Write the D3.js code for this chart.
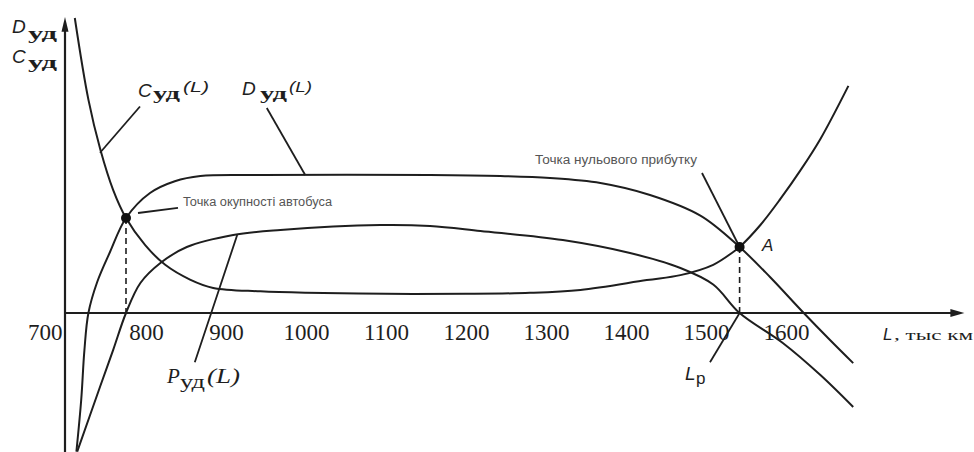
<!DOCTYPE html>
<html><head><meta charset="utf-8">
<script src="https://cdn.jsdelivr.net/npm/d3@7"></script>
<style>body{margin:0;background:#fff}svg{display:block}</style>
</head><body>
<svg id="c" width="974" height="452"></svg>
<script>
// ---- data (L in thousand km, values in relative units) ----
const ticksL = [700, 800, 900, 1000, 1100, 1200, 1300, 1400, 1500, 1600];

const costL = [711, 728, 743, 759, 775, 799, 824, 855, 884, 943, 1000, 1100, 1200, 1280, 1343, 1426, 1468, 1509, 1534, 1542, 1568, 1593, 1618, 1643, 1678];
const costV = [30.0, 21.7, 16.6, 12.5, 9.66, 6.9, 4.9, 3.4, 2.55, 2.2, 2.05, 1.95, 1.95, 2.05, 2.35, 3.35, 3.85, 4.9, 6.2, 6.71, 8.95, 11.6, 14.5, 17.7, 23.1];

const revL = [713, 719, 723, 728, 739, 755, 775, 805, 836, 868, 943, 1155, 1243, 1305, 1368, 1430, 1493, 1542, 1580, 1621, 1655, 1684];
const revV = [-14.1, -8.85, -3.8, 0, 3.15, 6.2, 9.66, 12.2, 13.4, 13.93, 14.03, 14.03, 13.93, 13.73, 13.22, 12.0, 9.9, 6.71, 3.66, 0.1, -2.75, -5.1];

const profL = [714, 743, 759, 775, 793, 818, 851, 909, 968, 1093, 1155, 1218, 1321, 1405, 1468, 1509, 1542, 1596, 1643, 1684];
const profV = [-14.1, -7.4, -3.75, 0, 3.05, 5.08, 6.71, 7.93, 8.44, 8.95, 8.85, 8.34, 7.42, 6.1, 4.58, 2.9, 0, -3.05, -6.31, -9.56];

const breakEven = [775, 9.66];   // Точка окупності автобуса
const pointA = [1542, 6.71];     // Точка нульового прибутку (A)

// ---- scales ----
const svg = d3.select("#c");
const x = d3.scaleLinear().domain([700, 1600]).range([66, 786]);
const y = d3.scaleLinear().domain([0, 30]).range([313, 18]);
const ink = "#1e1e1e";

const line = d3.line().x(d => x(d[0])).y(d => y(d[1])).curve(d3.curveCatmullRom.alpha(0.5));
const zip = (a, b) => a.map((v, i) => [v, b[i]]);

// ---- axes ----
const x0 = x(700) - 1;
svg.append("line").attr("x1", x0).attr("x2", x0).attr("y1", 452).attr("y2", y(29.2))
  .attr("stroke", ink).attr("stroke-width", 2.2);
svg.append("path").attr("d", `M${x0},${y(30.1)} L${x0-3.5},${y(28.6)} L${x0+3.5},${y(28.6)} Z`).attr("fill", ink);

const xEnd = x(1618) + 160;
svg.append("line").attr("x1", x0).attr("x2", xEnd - 8).attr("y1", y(0)).attr("y2", y(0))
  .attr("stroke", ink).attr("stroke-width", 2.2);
svg.append("path").attr("d", `M${xEnd + 4},${y(0)} L${xEnd - 10},${y(0) - 4} L${xEnd - 10},${y(0) + 4} Z`).attr("fill", ink);

const ax = svg.append("g").attr("transform", `translate(0,${y(0)})`)
  .call(d3.axisBottom(x).tickValues(ticksL).tickSize(0).tickPadding(11).tickFormat(d3.format("d")));
ax.select(".domain").remove();
ax.selectAll("text").attr("font-family", "Liberation Serif").attr("font-size", 23).attr("fill", ink);
ax.selectAll(".tick").filter(d => d === 700).select("text").attr("text-anchor", "end").attr("x", -4);

// ---- dashed verticals ----
[breakEven, pointA].forEach(p => {
  svg.append("line").attr("x1", x(p[0])).attr("x2", x(p[0])).attr("y1", y(p[1])).attr("y2", y(0))
    .attr("stroke", ink).attr("stroke-width", 1.6).attr("stroke-dasharray", "6,4");
});

// ---- curves ----
[[costL, costV], [revL, revV], [profL, profV]].forEach(([L, V]) => {
  svg.append("path").datum(zip(L, V)).attr("d", line)
    .attr("fill", "none").attr("stroke", ink).attr("stroke-width", 2);
});

// ---- pointer lines ----
const pointers = [
  [[742.5, 16.3], [792.5, 21.0]],   // C label
  [[951, 20.85], [999, 14.03]],     // D label
  [[861, -5.0], [914, 7.93]],       // P label
  [[1505, -5.0], [1542, 0]],        // Lp label
  [[790, 10.17], [840, 10.68]],     // break-even text
  [[1495, 14.24], pointA]           // zero-profit text
];
pointers.forEach(([a, b]) => {
  svg.append("line").attr("x1", x(a[0])).attr("y1", y(a[1])).attr("x2", x(b[0])).attr("y2", y(b[1]))
    .attr("stroke", ink).attr("stroke-width", 1.8);
});

// ---- points ----
[breakEven, pointA].forEach(p => {
  svg.append("circle").attr("cx", x(p[0])).attr("cy", y(p[1])).attr("r", 5).attr("fill", "#111");
});

// ---- text helper ----
function label(ax, ay, parts) {
  parts.forEach(p => {
    const t = svg.append("text").attr("x", ax + (p.dx || 0)).attr("y", ay + (p.dy || 0))
      .attr("font-family", p.f || "Liberation Sans").attr("font-size", p.s || 19)
      .attr("font-style", p.i ? "italic" : "normal").attr("font-weight", p.b ? "bold" : "normal")
      .attr("fill", p.c || ink).text(p.t);
    if (p.len) t.attr("textLength", p.len).attr("lengthAdjust", "spacingAndGlyphs");
  });
}

// y-axis title
label(12, 33, [{t: "D", i: 1}, {t: "уд", dx: 16, dy: 6, f: "Liberation Serif", b: 1, s: 17, len: 29}]);
label(12, 63, [{t: "C", i: 1}, {t: "уд", dx: 16, dy: 5, f: "Liberation Serif", b: 1, s: 17, len: 29}]);

// x-axis title
label(883, 340, [{t: "L", i: 1, s: 17}, {t: ", тыс км", dx: 11, f: "Liberation Serif", s: 14, len: 79}]);

// curve labels
label(x(790), y(21.97), [
  {t: "C", i: 1},
  {t: "уд", dx: 15, dy: 2, f: "Liberation Serif", b: 1, s: 17, len: 27},
  {t: "(L)", dx: 45, dy: -5, i: 1, s: 15, len: 26}
]);
label(x(920), y(22.17), [
  {t: "D", i: 1},
  {t: "уд", dx: 18, dy: 4, f: "Liberation Serif", b: 1, s: 17, len: 27},
  {t: "(L)", dx: 47, dy: -3, i: 1, s: 15, len: 23}
]);
label(x(826.25), y(-7.12), [
  {t: "P", i: 1, f: "Liberation Serif", s: 21},
  {t: "уд", dx: 13, dy: 5, f: "Liberation Serif", s: 18, len: 25},
  {t: "(L)", dx: 40, dy: 0, i: 1, f: "Liberation Serif", s: 21, len: 33}
]);
label(x(1473.75), y(-6.81), [
  {t: "L", i: 1, s: 19},
  {t: "p", dx: 11, dy: 4, s: 17}
]);
label(x(1570), y(6.3), [{t: "A", i: 1, s: 17}]);

// annotations
label(x(846.25), y(10.88), [{t: "Точка окупності автобуса", s: 12, c: "#555", len: 149}]);
label(x(1286.25), y(15.15), [{t: "Точка нульового прибутку", s: 12, c: "#555", len: 162}]);
</script>
</body></html>
